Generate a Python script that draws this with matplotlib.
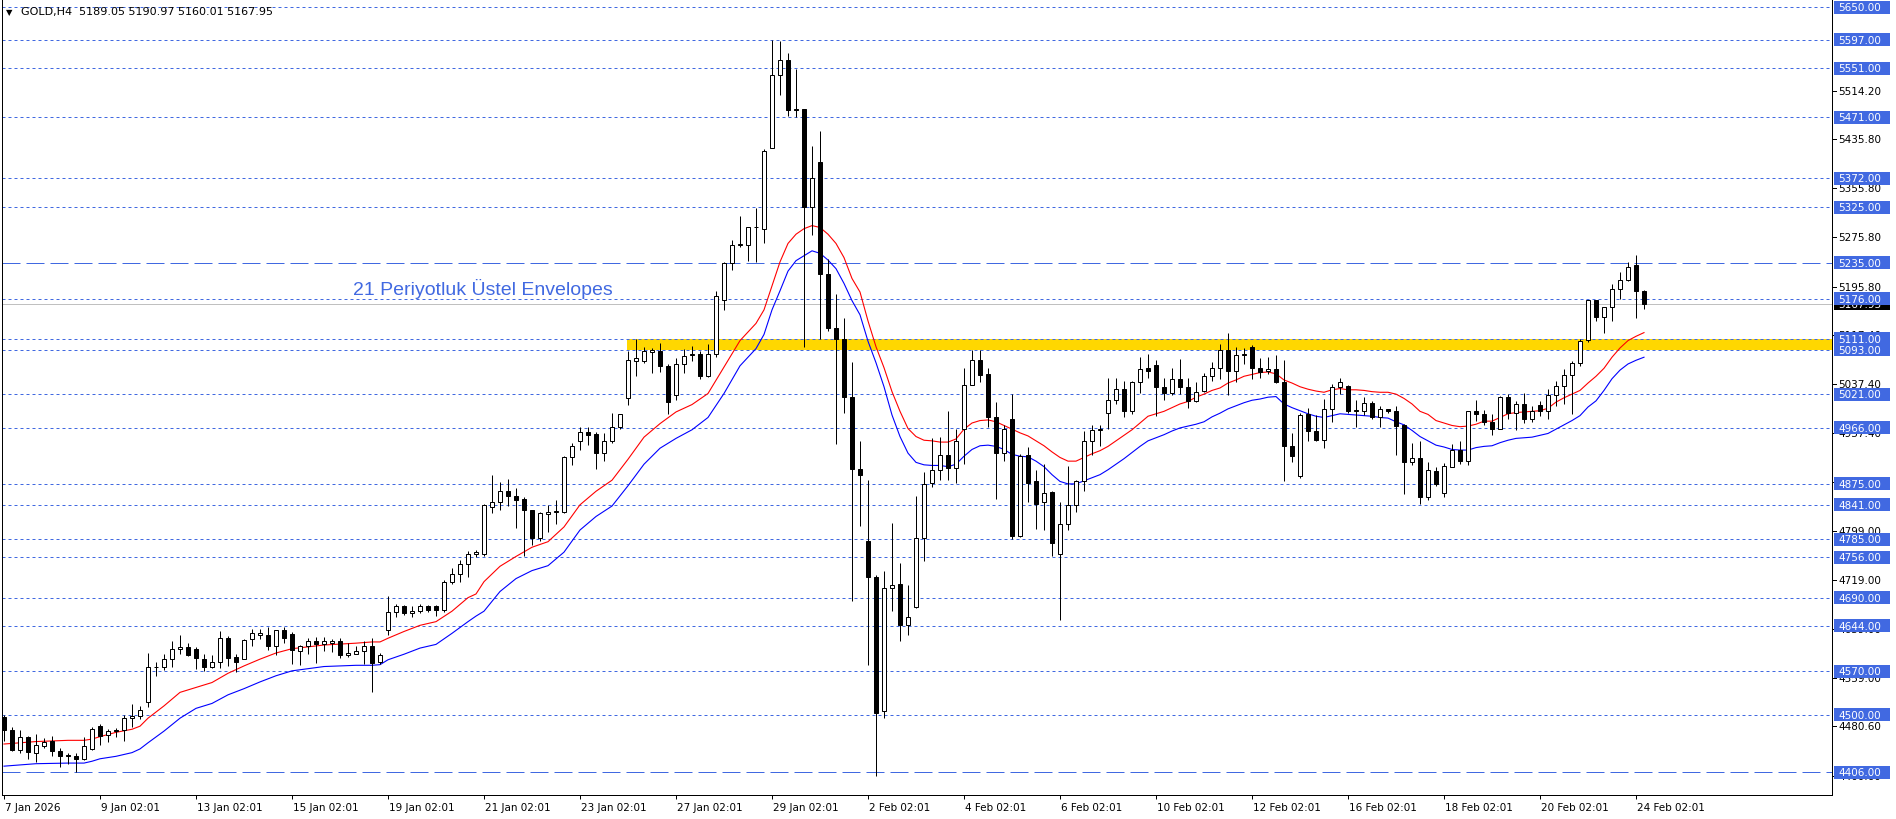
import matplotlib
matplotlib.use("Agg")
import matplotlib.pyplot as plt
import matplotlib.transforms as mtransforms
from matplotlib.patches import Rectangle

# GOLD H4 candles (bar 0 = 7 Jan 2026 02:01)
opens = [4496, 4475, 4443, 4463, 4438, 4449, 4457, 4440, 4434, 4432,
         4427, 4444, 4482, 4466, 4475, 4474, 4494, 4498, 4521, 4577,
         4577, 4591, 4606, 4610, 4606, 4591, 4578, 4586, 4625, 4593,
         4591, 4623, 4630, 4630, 4612, 4637, 4631, 4604, 4611, 4620,
         4615, 4617, 4620, 4596, 4599, 4603, 4611, 4585, 4637, 4666,
         4676, 4665, 4668, 4676, 4676, 4670, 4715, 4728, 4744, 4761,
         4761, 4838, 4845, 4863, 4856, 4850, 4833, 4787, 4826, 4830,
         4829, 4918, 4945, 4959, 4956, 4926, 4945, 4967, 5015, 5075,
         5075, 5090, 5091, 5066, 5020, 5070, 5085, 5087, 5051, 5087,
         5174, 5234, 5263, 5264, 5292, 5290, 5421, 5540, 5564, 5484,
         5484, 5325, 5399, 5217, 5129, 5110, 5016, 4900, 4782, 4724,
         4505, 4706, 4712, 4645, 4675, 4787, 4876, 4898, 4922, 4901,
         4965, 5036, 5077, 5053, 4983, 4925, 4980, 4791, 4922, 4879,
         4846, 4862, 4761, 4810, 4840, 4880, 4945, 4962, 4991, 5011,
         5029, 4993, 5040, 5063, 5068, 5033, 5022, 5046, 5033, 5009,
         5026, 5051, 5064, 5093, 5058, 5084, 5097, 5064, 5058, 5062,
         5041, 4936, 4888, 4988, 4961, 4946, 4997, 5033, 5035, 4994,
         4994, 5006, 4983, 4996, 4993, 4971, 4910, 4917, 4854, 4896,
         4860, 4903, 4930, 4913, 4993, 4989, 4976, 4965, 5017, 4991,
         5005, 4980, 5003, 4993, 5020, 5034, 5052, 5071, 5109, 5174,
         5147, 5162, 5192, 5206, 5231, 5189.05]
highs = [4500, 4479, 4475, 4465, 4468, 4462, 4465, 4445, 4438, 4438,
         4464, 4479, 4485, 4476, 4478, 4499, 4517, 4514, 4600, 4586,
         4598, 4620, 4629, 4617, 4609, 4598, 4597, 4635, 4628, 4598,
         4623, 4639, 4639, 4643, 4638, 4643, 4634, 4613, 4624, 4626,
         4626, 4623, 4624, 4616, 4612, 4619, 4624, 4600, 4692, 4680,
         4678, 4676, 4680, 4678, 4678, 4719, 4738, 4752, 4766, 4768,
         4842, 4889, 4878, 4883, 4869, 4853, 4833, 4830, 4840, 4848,
         4920, 4941, 4968, 4968, 4959, 4958, 4990, 4989, 5091, 5110,
         5098, 5096, 5104, 5070, 5079, 5095, 5100, 5091, 5103, 5189,
         5236, 5272, 5311, 5293, 5323, 5419, 5597, 5595, 5575, 5550,
         5485, 5425, 5449, 5240, 5184, 5144, 5073, 4944, 4881, 4727,
         4734, 4812, 4746, 4710, 4856, 4894, 4949, 4951, 4993, 4964,
         5064, 5092, 5092, 5064, 5008, 4971, 5021, 4924, 4935, 4897,
         4907, 4864, 4845, 4904, 4882, 4961, 4970, 4970, 5047, 5047,
         5042, 5043, 5081, 5086, 5076, 5047, 5064, 5078, 5047, 5041,
         5056, 5073, 5102, 5120, 5098, 5096, 5101, 5080, 5082, 5084,
         5076, 4958, 4991, 4998, 4987, 5013, 5037, 5047, 5036, 5012,
         5017, 5009, 5001, 4997, 5001, 4972, 4941, 4945, 4910, 4902,
         4909, 4940, 4944, 4993, 5011, 4995, 4989, 5018, 5021, 5009,
         5023, 5002, 5010, 5029, 5042, 5062, 5075, 5111, 5174, 5174,
         5162, 5200, 5220, 5236, 5248, 5190.97]
lows = [4457, 4440, 4437, 4427, 4422, 4445, 4432, 4414, 4419, 4407,
        4426, 4443, 4450, 4456, 4463, 4457, 4480, 4493, 4512, 4562,
        4573, 4578, 4598, 4595, 4574, 4571, 4576, 4576, 4579, 4569,
        4590, 4612, 4622, 4605, 4597, 4617, 4582, 4581, 4598, 4584,
        4603, 4601, 4592, 4593, 4598, 4582, 4537, 4582, 4629, 4658,
        4662, 4659, 4665, 4666, 4660, 4667, 4713, 4716, 4723, 4756,
        4757, 4827, 4833, 4839, 4804, 4757, 4775, 4782, 4797, 4810,
        4827, 4906, 4930, 4939, 4900, 4913, 4942, 4965, 5003, 5051,
        5071, 5055, 5057, 4988, 5012, 5055, 5075, 5046, 5049, 5081,
        5158, 5223, 5261, 5238, 5236, 5266, 5421, 5508, 5473, 5471,
        5097, 5280, 5110, 5124, 4940, 4991, 4685, 4806, 4581, 4400,
        4495, 4668, 4620, 4629, 4673, 4749, 4870, 4882, 4882, 4877,
        4907, 5036, 5041, 4967, 4851, 4912, 4786, 4789, 4846, 4801,
        4800, 4757, 4653, 4800, 4830, 4864, 4922, 4936, 4964, 5005,
        4983, 4989, 5022, 5047, 4986, 5012, 5020, 5021, 4999, 5008,
        5025, 5043, 5046, 5020, 5040, 5070, 5045, 5048, 5053, 5039,
        4879, 4911, 4885, 4945, 4944, 4934, 4975, 5021, 4990, 4967,
        4987, 4980, 4968, 4990, 4922, 4858, 4905, 4842, 4849, 4872,
        4853, 4903, 4908, 4905, 4978, 4970, 4955, 4964, 4981, 4962,
        4974, 4975, 4985, 4980, 5002, 5005, 4988, 5067, 5105, 5140,
        5121, 5140, 5175, 5205, 5144, 5160.01]
closes = [4474, 4443, 4463, 4439, 4450, 4455, 4440, 4433, 4432, 4427,
          4448, 4476, 4465, 4473, 4473, 4494, 4497, 4508, 4577, 4578,
          4591, 4606, 4610, 4596, 4592, 4578, 4586, 4624, 4592, 4586,
          4621, 4632, 4632, 4612, 4637, 4625, 4605, 4611, 4620, 4615,
          4619, 4619, 4596, 4600, 4603, 4611, 4584, 4597, 4666, 4676,
          4665, 4669, 4676, 4670, 4670, 4715, 4728, 4744, 4761, 4764,
          4840, 4845, 4863, 4856, 4849, 4832, 4787, 4827, 4830, 4831,
          4918, 4937, 4960, 4955, 4925, 4945, 4967, 4988, 5077, 5079,
          5091, 5092, 5066, 5008, 5070, 5083, 5087, 5050, 5087, 5180,
          5234, 5264, 5265, 5293, 5293, 5416, 5540, 5564, 5483, 5483,
          5325, 5372, 5217, 5128, 5110, 5016, 4900, 4889, 4723, 4503,
          4706, 4710, 4645, 4659, 4787, 4875, 4898, 4922, 4901, 4945,
          5036, 5077, 5052, 4983, 4925, 4964, 4791, 4920, 4877, 4843,
          4861, 4779, 4810, 4840, 4880, 4945, 4962, 4965, 5011, 5029,
          4993, 5040, 5062, 5058, 5033, 5022, 5046, 5033, 5009, 5025,
          5051, 5064, 5093, 5058, 5084, 5086, 5064, 5057, 5062, 5041,
          4936, 4921, 4987, 4961, 4946, 4997, 5033, 5041, 4994, 4995,
          5006, 4983, 4996, 4993, 4969, 4910, 4917, 4854, 4897, 4875,
          4904, 4930, 4913, 4993, 4988, 4976, 4965, 5017, 4991, 5005,
          4980, 4994, 4994, 5020, 5034, 5052, 5071, 5107, 5174, 5147,
          5162, 5192, 5206, 5227, 5188, 5167.95]

# envelope lines (bar index, upper, lower)
env_idx = [0, 4, 8, 10, 11, 12, 14, 16, 17, 18, 20, 22, 24, 26, 28, 30, 32, 34, 36,
           40, 44, 46, 47, 48, 50, 52, 54, 56, 58, 59, 60, 62, 64, 66, 68, 70, 72, 74,
           76, 78, 80, 82, 84, 86, 88, 90, 92, 94] + list(range(95, 206))
env_upper = [4452, 4456, 4458, 4458, 4460, 4464, 4471, 4476, 4481, 4494, 4514, 4536,
             4544, 4552, 4567, 4579, 4590, 4600, 4607,
             4613, 4616, 4618, 4618, 4624, 4635, 4645, 4651, 4668, 4690, 4696, 4716,
             4741, 4757, 4772, 4781, 4805, 4841, 4863,
             4881, 4915, 4951, 4973, 4992, 5004, 5022, 5065, 5108, 5136,
             5158, 5197, 5236, 5266, 5281, 5290, 5295, 5292, 5281, 5266,
             5243, 5209, 5187, 5140, 5098, 5064, 5025, 4993, 4965, 4952,
             4946, 4945, 4943, 4943, 4948, 4964, 4974, 4978, 4979, 4976,
             4970, 4964, 4958, 4953, 4945, 4937, 4927, 4918, 4912, 4912,
             4918, 4924, 4929, 4936, 4945, 4954, 4963, 4974, 4985, 4989,
             4993, 4999, 5005, 5009, 5016, 5021, 5027, 5031, 5039, 5044,
             5050, 5053, 5056, 5057, 5054, 5044, 5039, 5033, 5029, 5026,
             5024, 5028, 5030, 5028, 5028, 5027, 5025, 5024, 5024, 5021,
             5014, 5005, 4993, 4988, 4978, 4974, 4970, 4968, 4969, 4972,
             4977, 4977, 4983, 4989, 4991, 4992, 4993, 4994, 4998, 5008,
             5015, 5021, 5027, 5039, 5050, 5063, 5081, 5096, 5108, 5115, 5121]
env_lower = [4416, 4420, 4421, 4421, 4424, 4428, 4432, 4438, 4444, 4454, 4473, 4494,
             4510, 4518, 4532, 4542, 4553, 4563, 4571,
             4578, 4580, 4580, 4581, 4589, 4598, 4608, 4614, 4632, 4651, 4660, 4668,
             4700, 4721, 4734, 4742, 4764, 4800, 4822,
             4839, 4872, 4907, 4933, 4949, 4963, 4983, 5022, 5067, 5095,
             5118, 5158, 5189, 5221, 5238, 5246, 5254, 5250, 5239, 5225,
             5201, 5173, 5150, 5107, 5072, 5033, 4987, 4952, 4925, 4910,
             4906, 4905, 4905, 4903, 4907, 4920, 4931, 4937, 4938, 4936,
             4931, 4923, 4920, 4919, 4912, 4903, 4890, 4879, 4875, 4875,
             4880, 4885, 4890, 4898, 4907, 4916, 4926, 4936, 4945, 4950,
             4955, 4961, 4966, 4969, 4972, 4976, 4984, 4990, 4997, 5002,
             5007, 5011, 5013, 5016, 5017, 5005, 4999, 4994, 4989, 4985,
             4983, 4986, 4989, 4988, 4987, 4986, 4985, 4983, 4982, 4976,
             4971, 4962, 4952, 4945, 4938, 4935, 4931, 4930, 4930, 4934,
             4936, 4937, 4942, 4946, 4949, 4950, 4951, 4954, 4957, 4964,
             4971, 4978, 4986, 5000, 5010, 5027, 5046, 5060, 5070, 5076, 5081]

dot_levels = [5650, 5597, 5551, 5471, 5372, 5325, 5176, 5111, 5093, 5021, 4966,
              4875, 4841, 4785, 4756, 4690, 4644, 4570, 4500]
dash_levels = [5235, 4406]
scale_prices = [5514.20, 5435.80, 5355.80, 5275.80, 5195.80, 5117.40, 5037.40,
                4957.40, 4877.40, 4799.00, 4719.00, 4639.00, 4559.00, 4480.60, 4400.60]
band_lo, band_hi = 5093, 5111
band_start = 77.85
bid = 5167.95

time_idx = [0, 12, 24, 36, 48, 60, 72, 84, 96, 108, 120, 132, 144, 156, 168, 180, 192, 204]
time_labels = ["7 Jan 2026", "9 Jan 02:01", "13 Jan 02:01", "15 Jan 02:01", "19 Jan 02:01",
               "21 Jan 02:01", "23 Jan 02:01", "27 Jan 02:01", "29 Jan 02:01", "2 Feb 02:01",
               "4 Feb 02:01", "6 Feb 02:01", "10 Feb 02:01", "12 Feb 02:01", "16 Feb 02:01",
               "18 Feb 02:01", "20 Feb 02:01", "24 Feb 02:01"]

title = "GOLD,H4  5189.05 5190.97 5160.01 5167.95"
note = "21 Periyotluk \u00dcstel Envelopes"

W, H = 1896, 820
PX = 0.72  # one pixel in points
LEVEL_BLUE = "#4169E1"
plt.rcParams['font.family'] = ['DejaVu Sans']

fig = plt.figure(figsize=(W / 100, H / 100), dpi=100)
fig.patch.set_facecolor("white")
ax = fig.add_axes([2 / W, 24 / H, 1830 / W, 796 / H])
ax.set_xlim(-0.25, 228.5)
ax.set_ylim(4369.1, 5663.5)
ppu = 796 / (5663.5 - 4369.1)  # pixels per price unit

for s in ax.spines.values():
    s.set_linewidth(PX)
    s.set_color("black")
ax.set_yticks([])
ax.set_xticks(time_idx)
ax.tick_params(axis='x', direction='out', length=3, width=PX, labelbottom=False)

# yellow zone
ax.add_patch(Rectangle((band_start, band_lo), 400, band_hi - band_lo,
                       facecolor="#FFD700", edgecolor="none", zorder=1))

# horizontal levels
for lv in dot_levels:
    ax.axhline(lv, color=LEVEL_BLUE, lw=PX, linestyle=(0, (3, 3)), zorder=2)
for lv in dash_levels:
    ax.axhline(lv, color=LEVEL_BLUE, lw=PX, linestyle=(0, (18, 6)), zorder=2)
ax.axhline(bid, color="#C0C0C0", lw=PX, zorder=2)

# envelopes
ax.plot(env_idx, env_upper, color="#FF0000", lw=0.8, zorder=3)
ax.plot(env_idx, env_lower, color="#0000FF", lw=0.8, zorder=3)

# candles
xs = list(range(len(opens)))
ax.vlines(xs, lows, highs, color="black", lw=PX, zorder=4)
bottoms = [min(o, c) for o, c in zip(opens, closes)]
heights = [max(abs(c - o), 0.8) for o, c in zip(opens, closes)]
faces = ["black" if c < o else "white" for o, c in zip(opens, closes)]
ax.bar(xs, heights, width=0.6, bottom=bottoms, color=faces, edgecolor="black",
       linewidth=PX, zorder=5)

ax.text(43.6, 5183.8, note, fontsize=14, family=["Liberation Sans"], color=LEVEL_BLUE,
        ha="left", va="baseline", zorder=6)

# right price scale (labels partly covered by the level boxes, as in the terminal)
right = mtransforms.blended_transform_factory(mtransforms.IdentityTransform(), ax.transData)
for p in scale_prices:
    ax.plot([1832, 1836], [p, p], transform=right, color="black", lw=PX, clip_on=False)
    ax.text(1838, p, f"{p:.2f}", transform=right, fontsize=7.5, color="black",
            ha="left", va="center", clip_on=False, zorder=8)

bh = 13 / ppu
ax.add_patch(Rectangle((1834, bid - bh / 2), 56, bh, transform=right,
                       facecolor="black", edgecolor="none", clip_on=False, zorder=9))
ax.text(1838, bid, f"{bid:.2f}", transform=right, fontsize=7.5, color="white",
        ha="left", va="center", clip_on=False, zorder=9)
for lv in dot_levels + dash_levels:
    ax.add_patch(Rectangle((1834, lv - bh / 2), 56, bh, transform=right,
                           facecolor=LEVEL_BLUE, edgecolor="none", clip_on=False, zorder=10))
    ax.text(1838, lv, f"{lv:.2f}", transform=right, fontsize=7.5, color="white",
            ha="left", va="center", clip_on=False, zorder=11)

# time labels
bottom = mtransforms.blended_transform_factory(ax.transData, mtransforms.IdentityTransform())
for i, lab in zip(time_idx, time_labels):
    ax.text(i + 0.1, 12, lab, transform=bottom, fontsize=7.5, color="black",
            ha="left", va="center", clip_on=False)

fig.text(6 / W, 1 - 12.5 / H, "\u25bc", fontsize=6, va="center", ha="left")
fig.text(21 / W, 1 - 12.5 / H, title, fontsize=8, va="center", ha="left")

fig.savefig("out.png", dpi=100)
